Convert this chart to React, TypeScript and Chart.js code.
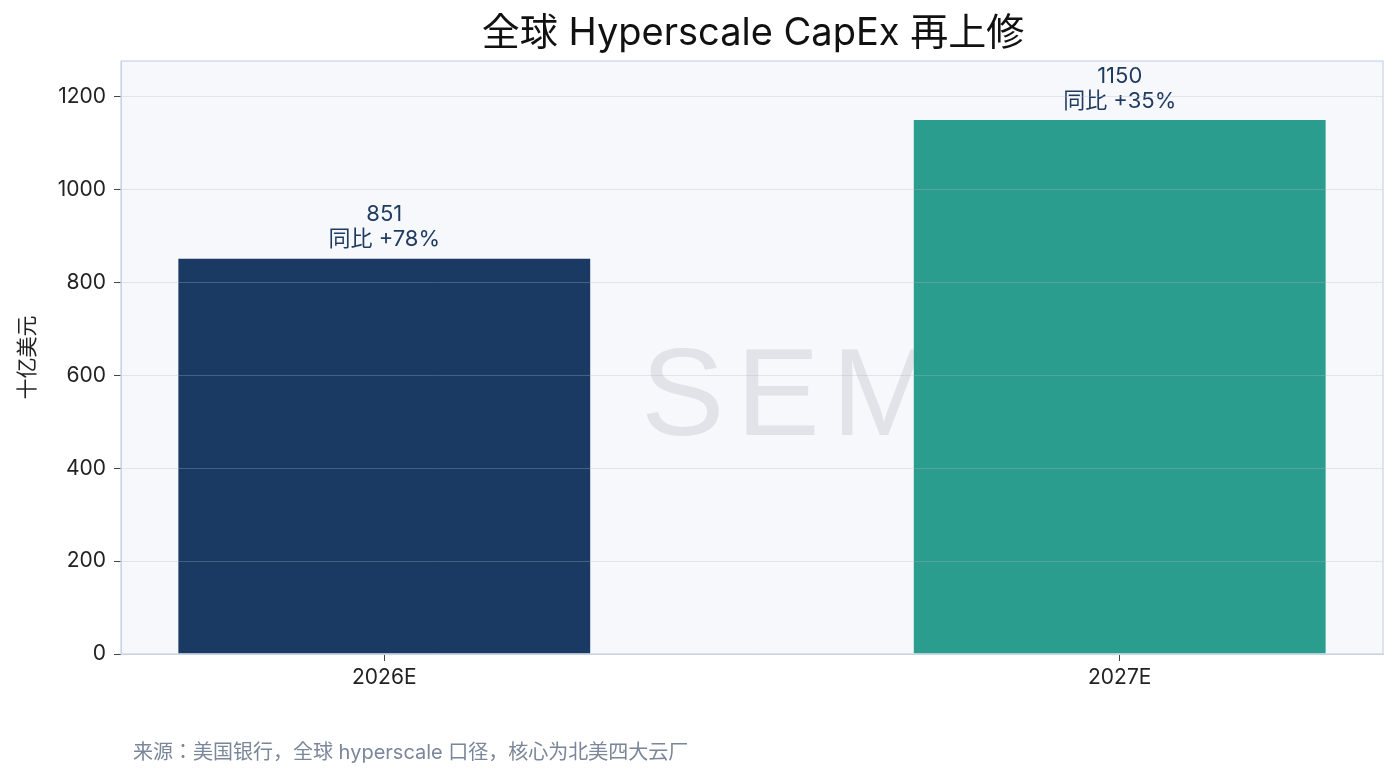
import React, { useEffect, useRef } from 'react';
import { Chart, registerables } from 'chart.js';

Chart.register(...registerables);

const categories = ['2026E', '2027E'];
const capexValues = [851, 1150];
const yoyLabels = ['同比 +78%', '同比 +35%'];
const barColors = ['#1a3a63', '#2a9d8f'];
const yTickValues = [0, 200, 400, 600, 800, 1000, 1200];
const titleText = '全球 Hyperscale CapEx 再上修';
const yAxisTitle = '十亿美元';
const sourceNote = '来源：美国银行，全球 hyperscale 口径，核心为北美四大云厂';
const watermarkText = 'SEMI';

const FONT = 'Inter, "Noto Sans CJK JP", "Noto Sans CJK SC", sans-serif';

const decorPlugin = {
  id: 'decor',
  beforeDraw(chart: any) {
    const { ctx, chartArea: a } = chart;
    ctx.save();
    ctx.fillStyle = '#ffffff';
    ctx.fillRect(0, 0, chart.width, chart.height);
    ctx.fillStyle = '#f6f8fc';
    ctx.fillRect(a.left, a.top, a.right - a.left, a.bottom - a.top);
    ctx.restore();
  },
  beforeDatasetsDraw(chart: any) {
    const { ctx, chartArea: a } = chart;
    ctx.save();
    ctx.beginPath();
    ctx.rect(a.left, a.top, a.right - a.left, a.bottom - a.top);
    ctx.clip();
    ctx.fillStyle = '#e1e3e8';
    ctx.font = '125px "Liberation Sans", Arial, sans-serif';
    (ctx as any).letterSpacing = '12px';
    ctx.textAlign = 'left';
    ctx.textBaseline = 'alphabetic';
    ctx.fillText(watermarkText, a.left + 520, a.top + 374);
    ctx.restore();
  },
  afterDatasetsDraw(chart: any) {
    const { ctx } = chart;
    const meta = chart.getDatasetMeta(0);
    ctx.save();
    ctx.fillStyle = '#1f3a5f';
    ctx.font = `22px ${FONT}`;
    ctx.textAlign = 'center';
    ctx.textBaseline = 'middle';
    meta.data.forEach((bar: any, i: number) => {
      ctx.fillText(String(capexValues[i]), bar.x, bar.y - 44);
      ctx.fillText(yoyLabels[i], bar.x, bar.y - 19);
    });
    ctx.restore();
  },
  afterDraw(chart: any) {
    const { ctx, chartArea: a } = chart;
    ctx.save();
    ctx.strokeStyle = '#c8d4e4';
    ctx.lineWidth = 1.2;
    ctx.strokeRect(a.left, a.top, a.right - a.left, a.bottom - a.top);
    ctx.fillStyle = '#111111';
    ctx.font = `38px ${FONT}`;
    ctx.textAlign = 'center';
    ctx.textBaseline = 'middle';
    ctx.fillText(titleText, 753, 34);
    ctx.fillStyle = '#7a8699';
    ctx.font = `20px ${FONT}`;
    ctx.textAlign = 'left';
    ctx.fillText(sourceNote, 133, 753);
    ctx.restore();
  },
};

export default function App() {
  const canvasRef = useRef<HTMLCanvasElement | null>(null);

  useEffect(() => {
    const canvas = canvasRef.current;
    if (!canvas) return;
    const chart = new Chart(canvas, {
      type: 'bar',
      data: {
        datasets: [
          {
            data: capexValues.map((v, i) => ({ x: i, y: v })),
            backgroundColor: barColors,
            borderWidth: 0,
            barPercentage: 0.56,
            categoryPercentage: 1,
          },
        ],
      },
      options: {
        responsive: false,
        animation: false,
        devicePixelRatio: 1,
        layout: { padding: { top: 61, left: 0, right: 17, bottom: 0 } },
        plugins: {
          legend: { display: false },
          tooltip: { enabled: false },
          title: { display: false },
        },
        scales: {
          x: {
            type: 'linear',
            offset: false,
            min: -0.358,
            max: 1.358,
            afterBuildTicks: (scale: any) => {
              scale.ticks = categories.map((_, i) => ({ value: i }));
            },
            afterFit: (scale: any) => {
              scale.height = 126;
            },
            ticks: {
              callback: (v: any) => categories[v] ?? '',
              color: '#222222',
              font: { family: FONT, size: 21 },
              padding: 4,
              maxRotation: 0,
              autoSkip: false,
            },
            grid: {
              offset: false,
              drawOnChartArea: false,
              tickLength: 7,
              tickColor: '#444444',
            },
            border: { color: '#c8d4e4', width: 1, z: 2 },
          },
          y: {
            min: 0,
            max: 1277,
            afterBuildTicks: (scale: any) => {
              scale.ticks = yTickValues.map((v) => ({ value: v }));
            },
            afterFit: (scale: any) => {
              scale.width = 121;
            },
            ticks: {
              callback: (v: any) => String(v),
              color: '#222222',
              font: { family: FONT, size: 21 },
              padding: 8,
            },
            grid: {
              color: 'rgba(175,182,195,0.3)',
              lineWidth: 1,
              tickLength: 7,
              tickColor: '#444444',
              z: 1,
            },
            border: { color: '#c8d4e4', width: 1, z: 2 },
            title: {
              display: true,
              text: yAxisTitle,
              color: '#222222',
              font: { family: FONT, size: 21 },
              padding: { top: 15, bottom: 0 },
            },
          },
        },
      },
      plugins: [decorPlugin],
    } as any);
    return () => chart.destroy();
  }, []);

  return (
    <div style={{ position: 'fixed', left: 0, top: 0, width: 1400, height: 780, background: '#ffffff' }}>
      <canvas ref={canvasRef} width={1400} height={780} />
    </div>
  );
}
